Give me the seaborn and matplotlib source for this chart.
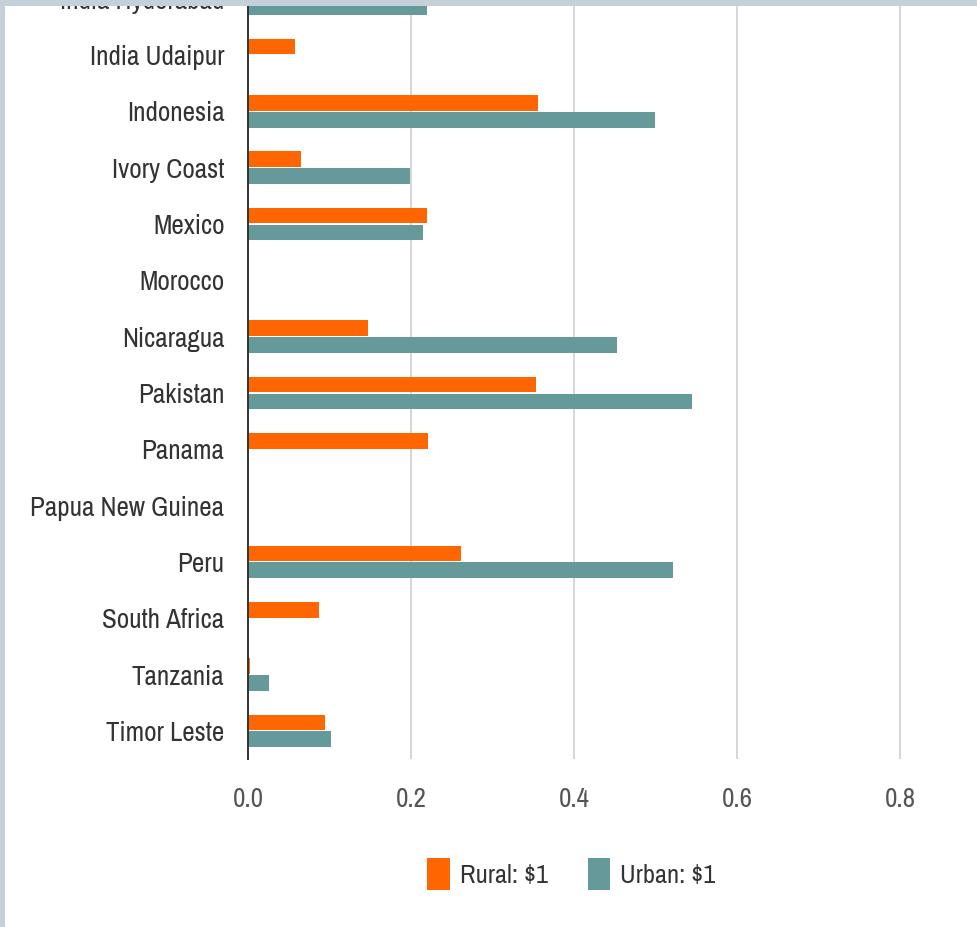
import matplotlib
matplotlib.use("Agg")
import matplotlib.pyplot as plt
import matplotlib.patches as mpatches
from matplotlib import font_manager
import pandas as pd
import seaborn as sns

countries = ["India Hyderabad", "India Udaipur", "Indonesia", "Ivory Coast", "Mexico",
             "Morocco", "Nicaragua", "Pakistan", "Panama", "Papua New Guinea", "Peru",
             "South Africa", "Tanzania", "Timor Leste"]
rural = [0.12, 0.058, 0.356, 0.065, 0.220, 0.0, 0.147, 0.353, 0.221, 0.0, 0.261,
         0.087, 0.002, 0.094]
urban = [0.220, 0.0, 0.499, 0.199, 0.215, 0.0, 0.453, 0.545, 0.0, 0.0, 0.521,
         0.0, 0.026, 0.102]
series = ["Rural: $1", "Urban: $1"]
colors = ["#ff6600", "#669999"]
xticks = [0.0, 0.2, 0.4, 0.6, 0.8]

df = pd.DataFrame({
    "country": countries * 2,
    "value": rural + urban,
    "series": [series[0]] * len(countries) + [series[1]] * len(countries),
})

sns.set_theme(style="white")
names = sorted({f.name for f in font_manager.fontManager.ttflist})
narrow = [n for n in names if "Narrow" in n or "Condensed" in n]
plt.rcParams["font.family"] = narrow + ["DejaVu Sans"]
plt.rcParams["font.stretch"] = "condensed"

fig = plt.figure(figsize=(9.77, 9.27), dpi=100)
fig.patch.set_facecolor("white")
W, H = 977, 927
left, right, bottom, top = 248, 977, 759, -29.5
ax = fig.add_axes([left / W, 1 - bottom / H, (right - left) / W, (bottom - top) / H])

sns.barplot(data=df, y="country", x="value", hue="series", order=countries,
            hue_order=series, palette=colors, orient="h", width=0.6, gap=0.07,
            saturation=1, linewidth=0, legend=False, ax=ax)

ax.set_xlim(0, (right - left) / 815.0)
ax.set_ylim(len(countries) - 0.5, -0.5)
ax.set_xticks(xticks)
ax.set_xticklabels([f"{t:.1f}" for t in xticks])
ax.set_xlabel("")
ax.set_ylabel("")
ax.xaxis.grid(True, color="#cccccc", linewidth=1.1)
ax.set_axisbelow(True)
for s in ["top", "right", "bottom"]:
    ax.spines[s].set_visible(False)
ax.spines["left"].set_color("#333333")
ax.spines["left"].set_linewidth(1.4)
ax.spines["left"].set_zorder(5)
ax.tick_params(axis="y", length=0, pad=17, labelsize=19.5, labelcolor="#333333")
ax.tick_params(axis="x", length=0, pad=20, labelsize=19.5, labelcolor="#555555")
ax.set_facecolor("white")

handles = [mpatches.Patch(facecolor=c, edgecolor="none", label=l) for c, l in zip(colors, series)]
fig.legend(handles=handles, loc="center", bbox_to_anchor=(0.585, 0.057), ncol=2,
           frameon=False, fontsize=19, handlelength=0.86, handleheight=1.45,
           handletextpad=0.38, columnspacing=1.5, labelcolor="#333333")

# window frame strips along the top and left edges
border = "#c5d0d8"
fig.patches.append(mpatches.Rectangle((0, 1 - 6 / H), 1, 6 / H, transform=fig.transFigure,
                                      facecolor=border, edgecolor="none", zorder=10))
fig.patches.append(mpatches.Rectangle((0, 0), 5 / W, 1, transform=fig.transFigure,
                                      facecolor=border, edgecolor="none", zorder=10))

fig.savefig("out.png", dpi=100)
